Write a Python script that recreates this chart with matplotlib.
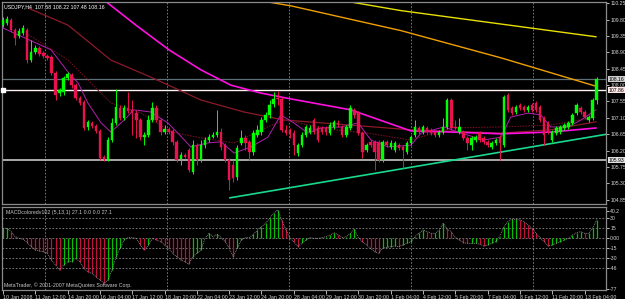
import matplotlib
matplotlib.use("Agg")
import matplotlib.pyplot as plt
import numpy as np

plt.rcParams["font.family"] = ["Liberation Sans", "DejaVu Sans"]

# USDJPY H4 candles (open, high, low, close)
opens = [109.65, 109.71, 109.79, 109.52, 109.35, 109.43, 109.52, 108.69, 108.91, 109.02,
         108.88, 108.80, 108.77, 108.33, 107.78, 107.81, 108.20, 108.28, 108.00, 107.65,
         107.54, 106.85, 106.96, 106.88, 106.74, 106.02, 105.97, 106.49, 106.96, 107.37,
         107.10, 107.37, 107.32, 107.23, 107.04, 106.57, 106.63, 107.04, 107.37, 107.04,
         106.71, 106.79, 106.74, 106.44, 105.97, 106.08, 106.22, 105.61, 106.35, 105.94,
         106.35, 106.49, 106.57, 106.63, 106.71, 106.35, 105.94, 105.80, 105.47, 106.41,
         106.55, 106.44, 106.16, 106.63, 106.71, 107.04, 107.18, 107.48, 107.65, 107.62,
         106.77, 106.77, 106.68, 106.13, 106.35, 106.63, 106.71, 107.04, 106.82, 106.82,
         106.82, 106.68, 106.85, 106.96, 106.85, 106.63, 106.82, 107.32, 107.23, 106.68,
         106.22, 106.44, 106.44, 106.44, 105.94, 106.44, 106.30, 106.22, 106.35, 106.30,
         106.16, 106.41, 106.63, 106.82, 106.71, 106.82, 106.77, 106.71, 106.63, 106.71,
         106.85, 107.59, 106.85, 106.71, 106.71, 106.55, 106.35, 106.49, 106.68, 106.55,
         106.44, 106.30, 106.41, 106.57, 106.35, 107.73, 107.37, 107.26, 107.45, 107.40,
         107.32, 107.45, 107.51, 107.40, 107.10, 106.96, 106.49, 106.68, 106.71, 106.82,
         106.85, 106.96, 107.23, 107.37, 107.26, 107.04, 107.10, 107.58]
highs = [109.87, 109.90, 109.85, 109.57, 109.57, 109.65, 109.57, 109.24, 109.10, 109.08,
         108.94, 108.86, 108.83, 108.39, 107.92, 108.25, 108.36, 108.33, 108.06, 107.70,
         107.59, 107.04, 107.01, 106.93, 106.79, 106.08, 106.57, 107.10, 107.89, 107.45,
         107.45, 107.81, 107.59, 107.32, 107.10, 106.71, 107.18, 107.54, 107.45, 107.10,
         106.90, 106.85, 106.79, 106.49, 106.16, 106.13, 106.27, 106.49, 106.41, 106.49,
         106.57, 106.66, 106.71, 107.32, 106.82, 106.41, 106.00, 105.94, 106.35, 106.77,
         106.63, 106.49, 106.77, 106.90, 107.12, 107.26, 107.59, 107.81, 107.84, 107.67,
         106.90, 106.82, 106.77, 106.41, 106.71, 106.90, 106.90, 107.10, 106.88, 106.88,
         106.88, 106.99, 107.04, 107.04, 106.90, 106.90, 107.45, 107.37, 107.29, 106.74,
         106.41, 106.49, 106.49, 106.49, 106.49, 106.49, 106.49, 106.46, 106.41, 106.35,
         106.46, 106.63, 107.04, 106.88, 106.90, 106.88, 106.82, 106.77, 106.77, 107.10,
         107.65, 107.65, 107.04, 107.10, 106.77, 106.60, 106.60, 106.63, 106.74, 106.60,
         106.49, 106.46, 106.55, 106.63, 107.73, 107.78, 107.43, 107.45, 107.51, 107.45,
         107.45, 107.51, 107.56, 107.45, 107.15, 107.01, 106.77, 106.88, 106.90, 106.96,
         107.01, 107.23, 107.51, 107.43, 107.32, 107.18, 107.65, 108.22]
lows = [109.60, 109.65, 109.46, 109.10, 109.30, 109.38, 108.61, 108.64, 108.86, 108.80,
        108.75, 108.69, 108.28, 107.59, 107.70, 107.73, 108.14, 107.92, 107.59, 107.45,
        106.77, 106.77, 106.82, 106.68, 105.94, 105.91, 105.91, 106.44, 106.90, 107.04,
        107.04, 107.23, 106.63, 106.55, 106.49, 106.35, 106.57, 106.99, 106.99, 106.63,
        106.66, 106.66, 106.35, 105.89, 105.80, 106.00, 105.61, 105.56, 105.80, 105.89,
        106.27, 106.44, 106.55, 106.57, 106.22, 105.89, 105.12, 105.34, 105.39, 106.35,
        106.22, 105.94, 106.08, 106.57, 106.63, 106.99, 107.10, 107.40, 107.45, 106.71,
        106.63, 106.55, 106.08, 106.05, 106.30, 106.57, 106.66, 106.66, 106.44, 106.66,
        106.63, 106.63, 106.79, 106.85, 106.57, 106.57, 106.77, 107.10, 106.63, 106.00,
        106.16, 106.30, 105.67, 105.89, 105.89, 106.30, 106.24, 106.16, 106.22, 105.72,
        106.11, 106.35, 106.57, 106.66, 106.66, 106.66, 106.63, 106.57, 106.57, 106.66,
        106.79, 106.77, 106.77, 106.66, 106.49, 106.22, 106.22, 106.44, 106.44, 106.38,
        106.30, 106.24, 106.35, 105.94, 106.30, 107.26, 107.18, 107.21, 107.32, 107.26,
        107.26, 107.26, 107.26, 106.99, 106.35, 106.66, 106.44, 106.63, 106.66, 106.77,
        106.79, 106.90, 107.18, 107.21, 107.07, 106.99, 107.04, 107.48]
closes = [109.79, 109.82, 109.52, 109.30, 109.49, 109.57, 108.69, 108.91, 109.02, 108.86,
          108.80, 108.75, 108.33, 107.73, 107.87, 108.20, 108.31, 108.00, 107.65, 107.51,
          106.82, 106.99, 106.88, 106.74, 106.00, 105.97, 106.49, 106.96, 107.40, 107.10,
          107.37, 107.29, 107.23, 107.04, 106.57, 106.63, 107.04, 107.37, 107.04, 106.71,
          106.79, 106.71, 106.44, 105.94, 106.08, 106.02, 105.67, 106.35, 105.94, 106.35,
          106.49, 106.57, 106.63, 106.71, 106.30, 105.94, 105.39, 105.45, 106.27, 106.55,
          106.41, 106.16, 106.68, 106.77, 107.04, 107.18, 107.45, 107.62, 107.62, 106.77,
          106.68, 106.68, 106.35, 106.35, 106.63, 106.85, 106.82, 106.71, 106.49, 106.71,
          106.71, 106.90, 106.99, 106.93, 106.63, 106.85, 107.37, 107.18, 106.68, 106.16,
          106.35, 106.35, 106.16, 105.94, 106.44, 106.35, 106.41, 106.41, 106.27, 106.22,
          106.41, 106.57, 106.85, 106.71, 106.85, 106.71, 106.68, 106.63, 106.71, 106.85,
          107.59, 106.82, 106.82, 106.85, 106.55, 106.41, 106.55, 106.57, 106.49, 106.44,
          106.35, 106.41, 106.49, 106.41, 107.67, 107.32, 107.23, 107.40, 107.37, 107.32,
          107.40, 107.32, 107.32, 107.04, 106.63, 106.71, 106.71, 106.82, 106.85, 106.90,
          106.96, 107.18, 107.45, 107.26, 107.12, 107.12, 107.59, 108.16]

# moving averages, knots (bar index, price)
yellow_i = [85.4, 98.5, 123.3, 146.8]
yellow_p = [110.30, 110.05, 109.68, 109.33]
orange_i = [64.4, 71.3, 98.5, 123.3, 146.8]
orange_p = [110.31, 110.18, 109.50, 108.75, 107.97]
magenta_i = [25, 32.9, 41.1, 49, 56.4, 63.9, 71.3, 86.1, 101, 110.9, 123.3, 135.6, 146.8]
magenta_p = [110.34, 109.65, 108.97, 108.42, 108.00, 107.78, 107.62, 107.32, 106.74,
             106.71, 106.66, 106.71, 106.82]
maroon_i = [6.2, 16.1, 26.7, 36.6, 49, 59.7, 69.6, 86.1, 101, 123.3, 135.6, 146.8]
maroon_p = [110.12, 109.65, 108.69, 108.22, 107.59, 107.26, 107.04, 106.90, 106.77,
            106.68, 106.77, 106.99]
dotted_i = [5.7, 16.1, 26.7, 34.2, 41.6, 49, 57.2, 65.6, 69.6, 81.9, 90.3, 101, 110.9,
            123.3, 135.6, 146.8]
dotted_p = [109.43, 108.69, 107.51, 107.23, 106.71, 106.55, 106.41, 106.85, 107.04,
            106.77, 106.68, 106.49, 106.82, 106.85, 106.90, 107.12]
fast_i = [0, 11.9, 16.1, 18.6, 21, 24.3, 26.7, 30, 32.4, 36.6, 40.8, 43.3, 46.5, 50.7,
          54, 57.2, 61.4, 65.6, 68.8, 72, 75.5, 78.7, 83.7, 87.9, 91.1, 95.3, 101,
          103.5, 109.2, 112.6, 119, 123.3, 125.7, 130, 133.2, 135.6, 139.9, 143.1, 146.8]
fast_p = [109.57, 108.97, 108.36, 108.06, 107.51, 106.96, 106.71, 107.04, 107.32, 107.26,
          106.96, 106.68, 106.30, 106.41, 106.44, 106.13, 106.30, 106.57, 107.18, 106.96,
          106.68, 106.82, 106.85, 106.96, 106.49, 106.30, 106.35, 106.68, 106.85, 106.71,
          106.49, 106.57, 107.12, 107.23, 107.18, 106.85, 106.85, 107.04, 107.32]

# trend line and horizontal levels
trend_i = [56.2, 149.5]
trend_p = [104.90, 106.65]
bid_level = 108.16
white_level = 107.86
low_level = 105.93

# MACD colored (5,13,1)
macd = [14, 14, 9, 1.5, -1, -2.5, -7.5, -13.5, -18.5, -20,
        -21, -23.5, -33.5, -41, -48.5, -41, -36, -36, -31, -36,
        -46, -51, -53.5, -58.5, -63.5, -68.5, -63.5, -48.5, -28.5, -16,
        -3.5, 0, 0, -1, -11, -18.5, -11, -1, -3.5, -6,
        -11, -16, -23.5, -28.5, -33.5, -36, -39.5, -28.5, -23.5, -18.5,
        -1, 6.5,
        1.5, 5, 0, -6, -16, -28.5, -16, -3.5, 0, 0,
        5, 11.5, 16.5, 21.5, 29, 36.5, 41.5, 26.5, 12.5, 0,
        -6, -13.5, -8.5, -3.5, 0, -1, -1, 0, 1.5, 4,
        7.5, 4, 0, 1.5, 6.5, 12.5, 0, -6, -11, -16,
        -21, -23.5, -16, -14.5, -13.5, -12.5, -13.5, -11, -8.5, -6,
        1.5, 6.5,
        11.5, 9, 6.5, 6.5, 11.5, 21.5, 12.5, 9, 0, -3.5,
        -7.5, -8.5, -8.5, -8.5, -9.5, -12.5, -11, -8.5, -6, 1.5,
        16.5, 24, 27.5, 27.5, 26.5, 24, 19, 14, 6.5, 0,
        -6, -12.5, -11, -8.5, -6, -3.5, -1, 4, 7.5, 9,
        6.5, 6.5, 14, 27.1]

date_labels = ["10 Jan 2008", "11 Jan 12:00", "14 Jan 20:00", "16 Jan 04:00",
               "17 Jan 12:00", "18 Jan 20:00", "22 Jan 04:00", "23 Jan 12:00",
               "24 Jan 20:00", "28 Jan 04:00", "29 Jan 12:00", "30 Jan 20:00",
               "1 Feb 04:00", "4 Feb 12:00", "5 Feb 20:00", "7 Feb 04:00",
               "8 Feb 12:00", "11 Feb 20:00", "13 Feb 04:00"]
price_ticks = [110.25, 109.80, 109.35, 108.90, 108.45, 108.00, 107.55, 107.10,
               106.65, 106.20, 105.75, 105.30, 104.85]
macd_ticks = [40.2, 30, 15, 0, -15, -30, -46, -77]
macd_tick_labels = ["40.2", "30", "15", "0.00", "-15", "-30", "-46", "-77"]
vgrid = [10.4, 40.6, 70.8, 101, 131.2]

n = len(closes)
x = np.arange(n)
o = np.array(opens)
c = np.array(closes)
h = np.array(highs)
l = np.array(lows)

BG = "#000000"
GRID = "#8a8a8a"
TXT = "#d8d8d8"
UP = "#00ff00"
DN = "#e8124f"
FS = 3.7      # right axis labels
FSD = 3.8     # date labels and captions

fig = plt.figure(figsize=(6.25, 2.99), dpi=100, facecolor=BG)
W, H = 625.0, 299.0
ax1 = fig.add_axes([2 / W, (H - 204) / H, 604 / W, 202.5 / H], facecolor=BG)
ax2 = fig.add_axes([2 / W, (H - 290) / H, 604 / W, 83 / H], facecolor=BG)

xlim = (-0.25, 149.3)

# ---- main price panel
for xv in vgrid:
    ax1.axvline(xv, color=GRID, lw=0.6, ls=(0, (2, 2)), zorder=0)

ax1.axhline(bid_level, color="#5f6f78", lw=0.9, zorder=1)
ax1.axhline(white_level, color="#fff0f0", lw=1.0, zorder=1)
ax1.axhline(low_level, color="#c8c4c4", lw=1.2, zorder=1)
ax1.plot([0], [white_level], marker="s", ms=2.5, color="white", zorder=6, clip_on=False)

ax1.plot(yellow_i, yellow_p, color="#e8e000", lw=1.0, zorder=2)
ax1.plot(orange_i, orange_p, color="#f0a000", lw=1.0, zorder=2)
ax1.plot(maroon_i, maroon_p, color="#8c1a28", lw=0.9, zorder=2)
ax1.plot(dotted_i, dotted_p, color="#6a1020", lw=0.8, ls=(0, (1.5, 1)), zorder=2)
ax1.plot(magenta_i, magenta_p, color="#ff10e0", lw=1.2, zorder=2)
ax1.plot(fast_i, fast_p, color="#b020b0", lw=0.7, zorder=4)
ax1.plot(trend_i, trend_p, color="#19d98f", lw=1.2, zorder=3)

up = c >= o
cols = np.where(up, UP, DN)
ax1.vlines(x, l, h, colors=cols, lw=0.7, zorder=4)
body_lo = np.minimum(o, c)
body_h = np.maximum(np.abs(c - o), 0.012)
ax1.bar(x, body_h, bottom=body_lo, width=0.6, color=cols, edgecolor=cols, lw=0.3, zorder=5)

ax1.set_xlim(*xlim)
ax1.set_ylim(104.73, 110.30)
ax1.yaxis.tick_right()
ax1.set_yticks(price_ticks)
ax1.set_yticklabels(["%.2f" % v for v in price_ticks])
ax1.tick_params(axis="y", colors=TXT, labelsize=FS, length=2, pad=1, width=0.6)
ax1.tick_params(axis="x", bottom=False, labelbottom=False)
for s in ax1.spines.values():
    s.set_color(GRID)
    s.set_linewidth(0.9)

tr = ax1.get_yaxis_transform()
for val, fc in [(bid_level, "#d0d0d0"), (white_level, "#ffe8e8"), (low_level, "#e0e0e0")]:
    ax1.text(1.004, val, "%.2f" % val, transform=tr, fontsize=FS, color="black",
             va="center", ha="left",
             bbox=dict(boxstyle="square,pad=0.1", fc=fc, ec="none"))

ax1.text(0.004, 0.985, "USDJPY,H4  107.58 108.22 107.48 108.16", transform=ax1.transAxes,
         fontsize=FSD, color="white", va="top", ha="left")

# ---- MACD panel
for xv in vgrid:
    ax2.axvline(xv, color=GRID, lw=0.6, ls=(0, (2, 2)), zorder=0)
for yv in [30, 15, 0, -15, -30, -46]:
    ax2.axhline(yv, color=GRID, lw=0.6, ls=(0, (2, 2)), zorder=0)

m = np.array(macd, dtype=float)
rising = np.concatenate([[True], m[1:] >= m[:-1]])
mcols = np.where(rising, "#00c000", "#c0103c")
ax2.vlines(x, 0, m, colors=mcols, lw=0.9, zorder=2)
ax2.plot(x, m, color="#a0a0a0", lw=0.6, ls=(0, (1, 1.2)), zorder=3)

ax2.set_xlim(*xlim)
ax2.set_ylim(-78.5, 46)
ax2.yaxis.tick_right()
ax2.set_yticks(macd_ticks)
ax2.set_yticklabels(macd_tick_labels)
ax2.tick_params(axis="y", colors=TXT, labelsize=FS, length=2, pad=1, width=0.6)
ax2.set_xticks(np.arange(len(date_labels)) * 8)
ax2.set_xticklabels(date_labels, ha="left")
ax2.tick_params(axis="x", colors=TXT, labelsize=FSD, length=3, pad=0.5, width=0.6)
for s in ax2.spines.values():
    s.set_color(GRID)
    s.set_linewidth(0.9)

ax2.text(0.006, 0.96, "MACDcoloredv102 (5,13,1) 27.1 0.0 0.0 27.1", transform=ax2.transAxes,
         fontsize=FSD, color="#c8c8c8", va="top", ha="left")
ax2.text(0.004, 0.03, "MetaTrader, \u00a9 2001-2007 MetaQuotes Software Corp.",
         transform=ax2.transAxes, fontsize=FSD, color="#c8c8c8", va="bottom", ha="left")

fig.savefig("out.png", dpi=100, facecolor=BG)
